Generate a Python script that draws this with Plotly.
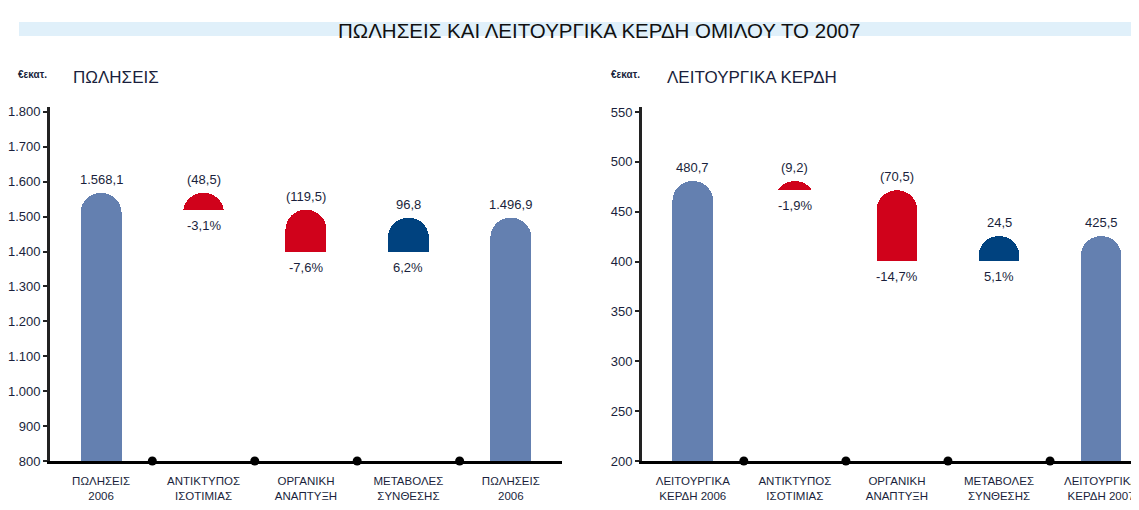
import plotly.graph_objects as go

# ---------------- data ----------------
sales_categories = ["ΠΩΛΗΣΕΙΣ<br>2006", "ΑΝΤΙΚΤΥΠΟΣ<br>ΙΣΟΤΙΜΙΑΣ", "ΟΡΓΑΝΙΚΗ<br>ΑΝΑΠΤΥΞΗ",
                    "ΜΕΤΑΒΟΛΕΣ<br>ΣΥΝΘΕΣΗΣ", "ΠΩΛΗΣΕΙΣ<br>2006"]
sales_values = [1568.1, -48.5, -119.5, 96.8, 1496.9]
sales_pct = [None, -3.1, -7.6, 6.2, None]
sales_kind = ["total", "delta", "delta", "delta", "total"]

profit_categories = ["ΛΕΙΤΟΥΡΓΙΚΑ<br>ΚΕΡΔΗ 2006", "ΑΝΤΙΚΤΥΠΟΣ<br>ΙΣΟΤΙΜΙΑΣ", "ΟΡΓΑΝΙΚΗ<br>ΑΝΑΠΤΥΞΗ",
                     "ΜΕΤΑΒΟΛΕΣ<br>ΣΥΝΘΕΣΗΣ", "ΛΕΙΤΟΥΡΓΙΚΑ<br>ΚΕΡΔΗ 2007"]
profit_values = [480.7, -9.2, -70.5, 24.5, 425.5]
profit_pct = [None, -1.9, -14.7, 5.1, None]
profit_kind = ["total", "delta", "delta", "delta", "total"]

sales_ticks = [800, 900, 1000, 1100, 1200, 1300, 1400, 1500, 1600, 1700, 1800]
profit_ticks = [200, 250, 300, 350, 400, 450, 500, 550]

main_title = "ΠΩΛΗΣΕΙΣ ΚΑΙ ΛΕΙΤΟΥΡΓΙΚΑ ΚΕΡΔΗ ΟΜΙΛΟΥ ΤΟ 2007"
unit_label = "€εκατ."
sales_title = "ΠΩΛΗΣΕΙΣ"
profit_title = "ΛΕΙΤΟΥΡΓΙΚΑ ΚΕΡΔΗ"

# ---------------- style ----------------
W, H = 1139, 510
OFF = 8                       # page body margin shifts the figure
PLOT_TOP, PLOT_BOT = 107, 461  # page pixels
MT = PLOT_TOP - OFF
MB = H - (PLOT_BOT - OFF)
PH = H - MT - MB
FONT = "Liberation Sans, Arial, sans-serif"
TXT = "#1a1f3c"
C_TOTAL = "#6480b0"
C_NEG = "#d0021b"
C_POS = "#00427f"


def gr(v, dec=1):
    s = f"{abs(v):,.{dec}f}"
    return s.replace(",", "X").replace(".", ",").replace("X", ".")


def xpaper(xpix):
    return (xpix - OFF) / W


def ypaper(ypix):
    return (PLOT_BOT - ypix) / PH


def waterfall(values, kinds, floor):
    lows, heights, colors, labels, tops, bottoms = [], [], [], [], [], []
    running = 0.0
    for v, k in zip(values, kinds):
        if k == "total":
            running = v
            lows.append(floor)
            heights.append(v - floor)
            colors.append(C_TOTAL)
            labels.append(gr(v))
            tops.append(v)
            bottoms.append(None)
        else:
            new = running + v
            lo, hi = min(running, new), max(running, new)
            lows.append(lo)
            heights.append(hi - lo)
            colors.append(C_NEG if v < 0 else C_POS)
            labels.append(f"({gr(v)})" if v < 0 else gr(v))
            tops.append(hi)
            bottoms.append(lo)
            running = new
    return lows, heights, colors, labels, tops, bottoms


fig = go.Figure()

panels = [
    dict(vals=sales_values, pct=sales_pct, kind=sales_kind,
         xa="x", ya="y", floor=800, rng=[800, 1814],
         xdom=[xpaper(46), xpaper(560)], xr=[-0.5, 4.5]),
    dict(vals=profit_values, pct=profit_pct, kind=profit_kind,
         xa="x2", ya="y2", floor=200, rng=[200, 555],
         xdom=[xpaper(640), 1.0], xr=[-0.5, 4.45]),
]

annotations = []
for p in panels:
    lows, heights, colors, labels, tops, bottoms = waterfall(p["vals"], p["kind"], p["floor"])
    xs = list(range(len(p["vals"])))
    # invisible lower part of each waterfall stack (below the axis floor / below the step)
    fig.add_trace(go.Bar(
        x=xs, y=lows, width=0.4,
        marker=dict(color="rgba(0,0,0,0)", line=dict(width=0)),
        xaxis=p["xa"], yaxis=p["ya"], showlegend=False, hoverinfo="skip",
    ))
    # visible part with rounded top
    fig.add_trace(go.Bar(
        x=xs, y=heights, width=0.4,
        marker=dict(color=colors, line=dict(width=0)),
        xaxis=p["xa"], yaxis=p["ya"], showlegend=False, hoverinfo="skip",
    ))
    # separator dots on the category axis
    fig.add_trace(go.Scatter(
        x=[i + 0.5 for i in xs[:-1]], y=[p["floor"]] * (len(xs) - 1),
        mode="markers", marker=dict(color="black", size=9),
        xaxis=p["xa"], yaxis=p["ya"], showlegend=False, hoverinfo="skip",
        cliponaxis=False,
    ))
    for i in xs:
        annotations.append(dict(
            x=i, y=tops[i], xref=p["xa"], yref=p["ya"], text=labels[i],
            showarrow=False, yanchor="bottom", yshift=4,
            font=dict(family=FONT, size=13, color=TXT),
        ))
        if p["pct"][i] is not None:
            pv = p["pct"][i]
            t = ("-" if pv < 0 else "") + gr(pv) + "%"
            annotations.append(dict(
                x=i, y=bottoms[i], xref=p["xa"], yref=p["ya"], text=t,
                showarrow=False, yanchor="top", yshift=-6,
                font=dict(family=FONT, size=13, color=TXT),
            ))

shapes = [dict(type="rect", xref="paper", yref="paper",
               x0=xpaper(15), x1=1.0, y0=ypaper(36), y1=ypaper(22),
               fillcolor="#e0f0fa", line=dict(width=0), layer="below")]

annotations += [
    dict(x=xpaper(597), y=ypaper(30), xref="paper", yref="paper", text=main_title,
         showarrow=False, xanchor="center", yanchor="middle",
         font=dict(family=FONT, size=20.5, color="#111111")),
    dict(x=xpaper(12), y=ypaper(75), xref="paper", yref="paper", text=unit_label,
         showarrow=False, xanchor="left", yanchor="middle",
         font=dict(family=FONT, size=10, color=TXT, weight="bold")),
    dict(x=xpaper(67), y=ypaper(78), xref="paper", yref="paper", text=sales_title,
         showarrow=False, xanchor="left", yanchor="middle",
         font=dict(family=FONT, size=17, color=TXT)),
    dict(x=xpaper(607), y=ypaper(75), xref="paper", yref="paper", text=unit_label,
         showarrow=False, xanchor="left", yanchor="middle",
         font=dict(family=FONT, size=10, color=TXT, weight="bold")),
    dict(x=xpaper(663), y=ypaper(78), xref="paper", yref="paper", text=profit_title,
         showarrow=False, xanchor="left", yanchor="middle",
         font=dict(family=FONT, size=17, color=TXT)),
]

axis_common_x = dict(showgrid=False, zeroline=False, showline=True, linecolor="black",
                     linewidth=3, ticks="", ticklabelstandoff=7,
                     tickfont=dict(family=FONT, size=11.5, color=TXT),
                     fixedrange=True)
axis_common_y = dict(showgrid=False, zeroline=False, showline=True, linecolor="#222222",
                     linewidth=2.5, ticks="outside", ticklen=4, tickwidth=1.5,
                     tickcolor="#222222", tickformat=",d",
                     tickfont=dict(family=FONT, size=13, color=TXT), fixedrange=True)

fig.update_layout(
    width=W, height=H,
    margin=dict(l=0, r=0, t=MT, b=MB),
    paper_bgcolor="white", plot_bgcolor="white",
    barmode="stack", barcornerradius="50%", separators=",.",
    xaxis=dict(domain=panels[0]["xdom"], range=panels[0]["xr"], anchor="y",
               tickvals=list(range(5)), ticktext=sales_categories, **axis_common_x),
    yaxis=dict(domain=[0, 1], range=panels[0]["rng"], anchor="x",
               tickvals=sales_ticks, **axis_common_y),
    xaxis2=dict(domain=panels[1]["xdom"], range=panels[1]["xr"], anchor="y2",
                tickvals=list(range(5)), ticktext=profit_categories, **axis_common_x),
    yaxis2=dict(domain=[0, 1], range=panels[1]["rng"], anchor="x2",
                tickvals=profit_ticks, **axis_common_y),
    annotations=annotations,
    shapes=shapes,
)

fig.write_html("out.html")
